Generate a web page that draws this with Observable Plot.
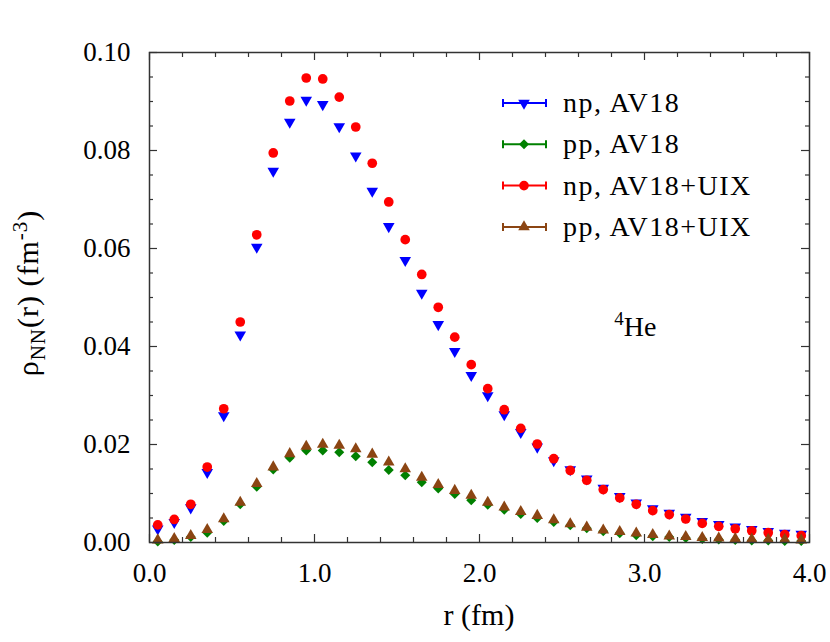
<!DOCTYPE html>
<html><head><meta charset="utf-8">
<script src="https://cdn.jsdelivr.net/npm/d3@7"></script>
<script src="https://cdn.jsdelivr.net/npm/@observablehq/plot@0.6"></script>
<style>body{margin:0;background:#fff}</style>
</head><body><div id="chart"></div>
<script>
const r = [0.05,0.15,0.25,0.35,0.45,0.55,0.65,0.75,0.85,0.95,1.05,1.15,1.25,1.35,1.45,1.55,1.65,1.75,1.85,1.95,
           2.05,2.15,2.25,2.35,2.45,2.55,2.65,2.75,2.85,2.95,3.05,3.15,3.25,3.35,3.45,3.55,3.65,3.75,3.85,3.95];
const npAV18 = [0.0028,0.0041,0.0071,0.0143,0.0259,0.0424,0.0603,0.0758,0.0858,0.0903,0.0894,0.0849,0.0789,0.0717,0.0645,0.0576,0.0509,0.0445,0.0390,0.0341,
                0.0300,0.0261,0.0225,0.0195,0.0167,0.0149,0.0130,0.0111,0.0094,0.0081,0.0069,0.0060,0.0052,0.0043,0.0037,0.0032,0.0027,0.0023,0.0019,0.0017];
const ppAV18 = [0.0002,0.0005,0.0011,0.0020,0.0044,0.0078,0.0114,0.0149,0.0173,0.0188,0.0188,0.0184,0.0176,0.0164,0.0148,0.0137,0.0123,0.0110,0.0099,0.0086,
                0.0077,0.0067,0.0058,0.0050,0.0042,0.0035,0.0029,0.0023,0.0019,0.0015,0.0013,0.0011,0.0009,0.0007,0.0006,0.0005,0.0004,0.0004,0.0003,0.0003];
const npUIX = [0.0036,0.0047,0.0078,0.0154,0.0273,0.0450,0.0628,0.0795,0.0901,0.0948,0.0946,0.0909,0.0848,0.0774,0.0695,0.0618,0.0547,0.0480,0.0419,0.0363,
               0.0314,0.0271,0.0233,0.0201,0.0171,0.0147,0.0127,0.0108,0.0091,0.0078,0.0065,0.0057,0.0048,0.0039,0.0033,0.0028,0.0024,0.0020,0.0016,0.0014];
const ppUIX = [0.0005,0.0008,0.0014,0.0026,0.0048,0.0082,0.0120,0.0154,0.0181,0.0196,0.0200,0.0198,0.0191,0.0180,0.0164,0.0150,0.0133,0.0118,0.0106,0.0096,
               0.0082,0.0072,0.0063,0.0055,0.0046,0.0038,0.0031,0.0025,0.0022,0.0019,0.0016,0.0013,0.0012,0.0010,0.0009,0.0008,0.0007,0.0006,0.0006,0.0005];

const seriesNames = ["np, AV18", "pp, AV18", "np, AV18+UIX", "pp, AV18+UIX"];
const seriesColors = ["#0000ff", "#008000", "#ff0000", "#8b4513"];
const seriesSymbols = ["triangle", "diamond2", "circle", "triangle"];
const seriesRotate = [180, 0, 0, 0];
const seriesSizes = [4.3, 4.5, 4.85, 4.3];
const seriesValues = [npAV18, ppAV18, npUIX, ppUIX];

const xTicks = [0, 1, 2, 3, 4];
const xMinor = [0.2,0.4,0.6,0.8,1.2,1.4,1.6,1.8,2.2,2.4,2.6,2.8,3.2,3.4,3.6,3.8];
const yTicks = [0, 0.02, 0.04, 0.06, 0.08, 0.10];
const yMinor = [0.005,0.01,0.015,0.025,0.03,0.035,0.045,0.05,0.055,0.065,0.07,0.075,0.085,0.09,0.095];

const FONT = "Liberation Serif";
const W = 830, H = 642;
const mL = 149, mR = 21, mT = 52, mB = 100;
const pw = W - mL - mR, ph = H - mT - mB;
const frameColor = "#333";

const marks = [];
marks.push(Plot.tickX(xTicks, {x: d => d, stroke: frameColor, strokeWidth: 1.2, insetTop: ph - 8}));
marks.push(Plot.tickX(xTicks, {x: d => d, stroke: frameColor, strokeWidth: 1.2, insetBottom: ph - 8}));
marks.push(Plot.tickX(xMinor, {x: d => d, stroke: frameColor, strokeWidth: 1.2, insetTop: ph - 5}));
marks.push(Plot.tickX(xMinor, {x: d => d, stroke: frameColor, strokeWidth: 1.2, insetBottom: ph - 5}));
marks.push(Plot.tickY(yTicks, {y: d => d, stroke: frameColor, strokeWidth: 1.2, insetRight: pw - 8}));
marks.push(Plot.tickY(yTicks, {y: d => d, stroke: frameColor, strokeWidth: 1.2, insetLeft: pw - 8}));
marks.push(Plot.tickY(yMinor, {y: d => d, stroke: frameColor, strokeWidth: 1.2, insetRight: pw - 4}));
marks.push(Plot.tickY(yMinor, {y: d => d, stroke: frameColor, strokeWidth: 1.2, insetLeft: pw - 4}));

marks.push(Plot.axisX({ticks: xTicks, tickFormat: d3.format(".1f"), tickSize: 0, tickPadding: 20, fontSize: 27, label: null}));
marks.push(Plot.axisY({ticks: yTicks, tickFormat: d3.format(".2f"), tickSize: 0, tickPadding: 19, fontSize: 27, label: null}));

seriesValues.forEach((vals, i) => {
  const data = r.map((x, j) => ({r: x, v: vals[j]}));
  marks.push(Plot.dot(data, {
    x: "r", y: "v", symbol: seriesSymbols[i], rotate: seriesRotate[i],
    r: seriesSizes[i], fill: seriesColors[i], stroke: "none"
  }));
});
marks.push(Plot.frame({stroke: frameColor, strokeWidth: 1.5}));

const plot = Plot.plot({
  width: W, height: H,
  marginLeft: mL, marginRight: mR, marginTop: mT, marginBottom: mB,
  style: {background: "#fff", color: "#000"},
  x: {domain: [0, 4]},
  y: {domain: [0, 0.1]},
  marks
});
document.getElementById("chart").appendChild(plot);

const svg = d3.select(plot);
const sx = plot.scale("x"), sy = plot.scale("y");

// axis titles
svg.append("text")
  .attr("x", mL + pw / 2).attr("y", 625)
  .attr("text-anchor", "middle").attr("font-size", 30).attr("fill", "#000")
  .text("r (fm)");

const yl = svg.append("text")
  .attr("transform", "translate(38,293) rotate(-90)")
  .attr("text-anchor", "middle").attr("font-size", 30).attr("letter-spacing", 1).attr("fill", "#000");
yl.append("tspan").text("ρ");
yl.append("tspan").attr("dy", 7).attr("font-size", 21).text("NN");
yl.append("tspan").attr("dy", -7).text("(r) (fm");
yl.append("tspan").attr("dy", -11).attr("font-size", 21).text("-3");
yl.append("tspan").attr("dy", 11).text(")");

// 4He annotation
const ann = svg.append("text")
  .attr("x", sx.apply(2.82)).attr("y", sy.apply(0.042))
  .attr("text-anchor", "start")
  .attr("font-size", 28).attr("fill", "#000");
ann.append("tspan").attr("font-size", 19).attr("dy", -11).text("4");
ann.append("tspan").attr("dy", 11).text("He");

// legend
const lg = svg.append("g").attr("text-anchor", "start");
seriesNames.forEach((name, i) => {
  const yy = 103 + i * 41.3;
  const g = lg.append("g");
  g.append("line").attr("x1", 503).attr("x2", 546).attr("y1", yy).attr("y2", yy)
    .attr("stroke", seriesColors[i]).attr("stroke-width", 2);
  g.append("line").attr("x1", 503).attr("x2", 503).attr("y1", yy - 4).attr("y2", yy + 4)
    .attr("stroke", seriesColors[i]).attr("stroke-width", 2);
  g.append("line").attr("x1", 546).attr("x2", 546).attr("y1", yy - 4).attr("y2", yy + 4)
    .attr("stroke", seriesColors[i]).attr("stroke-width", 2);
  const symType = {triangle: d3.symbolTriangle, diamond2: d3.symbolDiamond2, circle: d3.symbolCircle}[seriesSymbols[i]];
  g.append("path")
    .attr("d", d3.symbol(symType, Math.PI * seriesSizes[i] * seriesSizes[i])())
    .attr("transform", `translate(524,${yy}) rotate(${seriesRotate[i]})`)
    .attr("fill", seriesColors[i]);
  g.append("text").attr("x", 563).attr("y", yy + 9).attr("text-anchor", "start")
    .attr("font-size", 28).attr("letter-spacing", 1.5).attr("fill", "#000").text(name);
});
svg.selectAll("text").attr("font-family", FONT);
</script>
</body></html>
